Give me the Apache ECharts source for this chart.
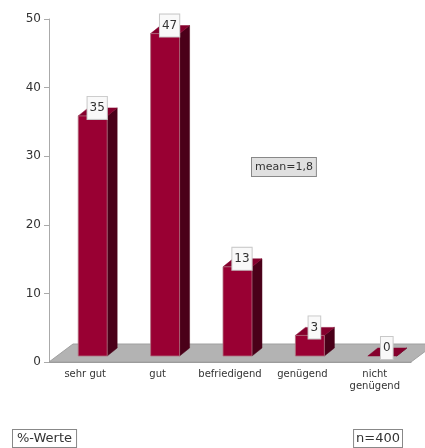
<!DOCTYPE html>
<html>
<head>
<meta charset="utf-8">
<script src="https://cdn.jsdelivr.net/npm/echarts@6/dist/echarts.min.js"></script>
<style>
html,body{margin:0;padding:0;background:#fff;}
#chart{width:425px;height:448px;}
</style>
</head>
<body>
<div id="chart"></div>
<script>
const categories = ['sehr gut', 'gut', 'befriedigend', 'genügend', 'nicht\ngenügend'];
const values = [35, 47, 13, 3, 0];
const yMin = 0, yMax = 50, yStep = 10;
const meanText = 'mean=1,8';
const unitText = '%-Werte';
const nText = 'n=400';

const FONT = 'DejaVu Sans';
const chart = echarts.init(document.getElementById('chart'), null, {renderer: 'canvas'});

const barData = values.map((v, i) => [i, v]);

function renderFloor(params, api) {
  const cs = params.coordSys;
  const y0 = api.coord([0, 0])[1];
  const left = cs.x, right = cs.x + cs.width;
  const ddx = 24, ddy = -18;
  return {
    type: 'polygon',
    shape: {points: [[left, y0], [right, y0], [right + ddx, y0 + ddy], [left + ddx, y0 + ddy]]},
    style: {fill: '#b3b3b3', stroke: '#a0a0a0', lineWidth: 1}
  };
}

function renderBar(params, api) {
  const i = api.value(0), v = api.value(1);
  const base = api.coord([i, 0]);
  const top = api.coord([i, v]);
  const bw = api.size([1, 0])[0] * 0.4;
  const ox = 7.5, oy = -6, dx = 10, dy = -8;
  const x0 = base[0] - bw / 2 + ox, x1 = x0 + bw;
  const yb = base[1] + oy, yt = top[1] + oy;
  const children = [];
  children.push({
    type: 'polygon',
    shape: {points: [[x1, yb], [x1 + dx, yb + dy], [x1 + dx, yt + dy], [x1, yt]]},
    style: {fill: '#4a0019', stroke: '#4a0019', lineWidth: 0.5}
  });
  children.push({
    type: 'polygon',
    shape: {points: [[x0, yt], [x1, yt], [x1 + dx, yt + dy], [x0 + dx, yt + dy]]},
    style: {fill: '#85002d', stroke: '#85002d', lineWidth: 0.5}
  });
  if (yb - yt > 0) {
    children.push({
      type: 'rect',
      shape: {x: x0, y: yt, width: bw, height: yb - yt},
      style: {fill: '#990033', stroke: '#b07080', lineWidth: 0.8}
    });
  }
  children.push({
    type: 'text',
    z2: 10,
    style: {
      text: String(v),
      x: x0 + bw / 2 + 4.5,
      y: yt - 8,
      align: 'center',
      verticalAlign: 'middle',
      fill: '#333',
      font: '12px "' + FONT + '"',
      backgroundColor: '#f9f9f9',
      borderColor: '#c8c8c8',
      borderWidth: 1,
      padding: [4, 2, 4, 2],
      lineHeight: 14
    }
  });
  return {type: 'group', children: children};
}

chart.setOption({
  animation: false,
  backgroundColor: '#fff',
  textStyle: {fontFamily: FONT},
  grid: {left: 49, top: 19, right: 14, bottom: 86, containLabel: false},
  xAxis: {
    type: 'category',
    data: categories,
    axisLine: {show: true, lineStyle: {color: '#999', width: 1}},
    axisTick: {show: false},
    axisLabel: {color: '#333', fontSize: 10, margin: 6, lineHeight: 12, fontFamily: FONT, interval: 0}
  },
  yAxis: {
    type: 'value',
    min: yMin, max: yMax, interval: yStep,
    axisLine: {show: true, lineStyle: {color: '#aaaaaa', width: 1}},
    axisTick: {show: true, length: 5, lineStyle: {color: '#aaaaaa'}},
    splitLine: {show: false},
    axisLabel: {color: '#333', fontSize: 12, margin: 8, fontFamily: FONT}
  },
  series: [
    {type: 'custom', renderItem: renderFloor, data: [[0, 0]], z: 1, silent: true},
    {type: 'custom', renderItem: renderBar, data: barData, z: 2}
  ],
  graphic: [
    {
      type: 'text', left: 251, top: 157, z: 100,
      style: {text: meanText, font: '11px "' + FONT + '"', fill: '#333',
        backgroundColor: '#e0e0e0', borderColor: '#888', borderWidth: 1, padding: [3, 3, 2, 3], lineHeight: 13}
    },
    {
      type: 'text', left: 12, top: 429, z: 100,
      style: {text: unitText, font: '13px "' + FONT + '"', fill: '#333',
        backgroundColor: '#fff', borderColor: '#888', borderWidth: 1, padding: [1, 4, 1, 4], lineHeight: 15}
    },
    {
      type: 'text', right: 22, top: 429, z: 100,
      style: {text: nText, font: '13px "' + FONT + '"', fill: '#333',
        backgroundColor: '#fff', borderColor: '#888', borderWidth: 1, padding: [1, 2, 1, 2], lineHeight: 15}
    }
  ]
});
</script>
</body>
</html>
